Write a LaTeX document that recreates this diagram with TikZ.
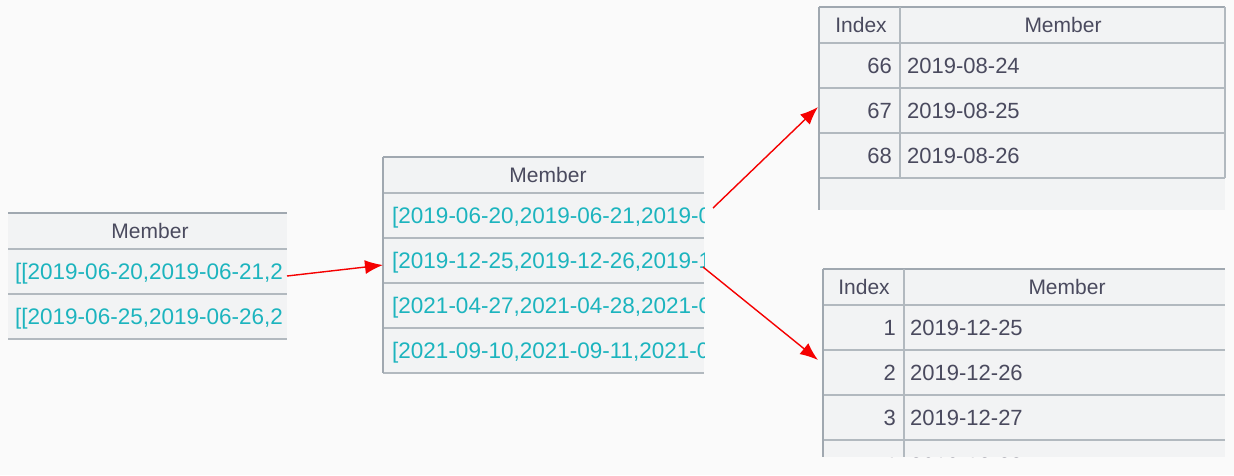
\documentclass[tikz,border=0pt]{standalone}
\usepackage{fontspec}
\setmainfont{Liberation Sans}
\usetikzlibrary{arrows.meta,positioning}
\definecolor{cellbg}{RGB}{242,243,244}
\definecolor{gridline}{RGB}{178,185,191}
\definecolor{topline}{RGB}{160,168,176}
\definecolor{headtext}{RGB}{74,74,94}
\definecolor{seqtext}{RGB}{28,180,190}
\definecolor{linkred}{RGB}{245,0,0}
\tikzset{
	head/.style = {
			font      = \fontsize{21}{24}\selectfont,
			text      = headtext,
			anchor    = base,
			inner sep = 0pt,
		},
	seq/.style = {
			font      = \fontsize{22.5}{26}\selectfont,
			text      = seqtext,
			anchor    = base west,
			inner sep = 0pt,
		},
	idx/.style = {
			font      = \fontsize{22}{26}\selectfont,
			text      = headtext,
			anchor    = base east,
			inner sep = 0pt,
		},
	val/.style = {
			font      = \fontsize{22}{26}\selectfont,
			text      = headtext,
			anchor    = base west,
			inner sep = 0pt,
		},
	grid/.style = {draw=gridline, line width=1.4pt},
	edge/.style = {draw=topline, line width=2pt},
	link/.style = {draw=linkred, line width=1.4pt, -{Latex[length=18pt,width=14pt]}},
}

\begin{document}
\begin{tikzpicture}[x=1pt,y=-1pt]
		\fill[white!98!black] (0,0) rectangle (1234,475);

		% left table
		\fill[cellbg] (8,213) rectangle (287,339);
		\draw[edge] (8,213) -- (287,213);
		\draw[grid] (8,249) -- (287,249);
		\draw[grid] (8,294) -- (287,294);
		\draw[grid] (8,339) -- (287,339);
		\begin{scope}
			\clip (8,213) rectangle (287,339);
			\node[head] at (150,238.5) (lhead) {Member};
			\node[seq] at (15,279.5) (lrow1) {[[2019-06-20,2019-06-21,2};
			\node[seq] at (15,324.5) (lrow2) {[[2019-06-25,2019-06-26,2};
		\end{scope}

		% middle table
		\fill[cellbg] (383,157) rectangle (704,373);
		\draw[edge] (383,157) -- (704,157);
		\draw[grid] (383,193) -- (704,193);
		\draw[grid] (383,238) -- (704,238);
		\draw[grid] (383,283) -- (704,283);
		\draw[grid] (383,328) -- (704,328);
		\draw[grid] (383,373) -- (704,373);
		\draw[edge] (383,157) -- (383,373);
		\begin{scope}
			\clip (383,157) rectangle (704,373);
			\node[head] at (548,182.5) (mhead) {Member};
			\node[seq] at (392,223.5) (mrow1) {[2019-06-20,2019-06-21,2019-06};
			\node[seq] at (392,268.5) (mrow2) {[2019-12-25,2019-12-26,2019-12};
			\node[seq] at (392,313.5) (mrow3) {[2021-04-27,2021-04-28,2021-04};
			\node[seq] at (392,358.5) (mrow4) {[2021-09-10,2021-09-11,2021-09};
		\end{scope}

		% top right table
		\fill[cellbg] (819,7) rectangle (1225,210);
		\draw[edge] (819,7) -- (1225,7);
		\draw[grid] (819,43) -- (1225,43);
		\draw[grid] (819,88) -- (1225,88);
		\draw[grid] (819,133) -- (1225,133);
		\draw[grid] (819,178) -- (1225,178);
		\draw[edge] (819,7) -- (819,210);
		\draw[grid] (900,7) -- (900,178);
		\draw[grid] (1225,7) -- (1225,178);
		\node[head] at (861,32.5) (uidx) {Index};
		\node[head] at (1063,32.5) (uhead) {Member};
		\node[idx] at (892,73.5) (ui1) {66};
		\node[val] at (907,73.5) (uv1) {2019-08-24};
		\node[idx] at (892,118.5) (ui2) {67};
		\node[val] at (907,118.5) (uv2) {2019-08-25};
		\node[idx] at (892,163.5) (ui3) {68};
		\node[val] at (907,163.5) (uv3) {2019-08-26};

		% bottom right table
		\fill[cellbg] (823,269) rectangle (1225,457);
		\draw[edge] (823,269) -- (1225,269);
		\draw[grid] (823,305) -- (1225,305);
		\draw[grid] (823,350) -- (1225,350);
		\draw[grid] (823,395) -- (1225,395);
		\draw[grid] (823,440) -- (1225,440);
		\draw[edge] (823,269) -- (823,457);
		\draw[grid] (904,269) -- (904,457);
		\begin{scope}
			\clip (823,269) rectangle (1225,457);
			\node[head] at (864,294.5) (bidx) {Index};
			\node[head] at (1067,294.5) (bhead) {Member};
			\node[idx] at (896,335.5) (bi1) {1};
			\node[val] at (910,335.5) (bv1) {2019-12-25};
			\node[idx] at (896,380.5) (bi2) {2};
			\node[val] at (910,380.5) (bv2) {2019-12-26};
			\node[idx] at (896,425.5) (bi3) {3};
			\node[val] at (910,425.5) (bv3) {2019-12-27};
			\node[idx] at (896,473) (bi4) {4};
			\node[val] at (910,473) (bv4) {2019-12-28};
		\end{scope}

		% arrows
		\coordinate (from1) at (287,276);
		\coordinate (to1) at (383,265);
		\coordinate (from2) at (713,208);
		\coordinate (to2) at (818,107);
		\coordinate (from3) at (703,267);
		\coordinate (to3) at (818,360);
		\draw[link] (from1) -- (to1);
		\draw[link] (from2) -- (to2);
		\draw[link] (from3) -- (to3);
	\end{tikzpicture}
\end{document}
